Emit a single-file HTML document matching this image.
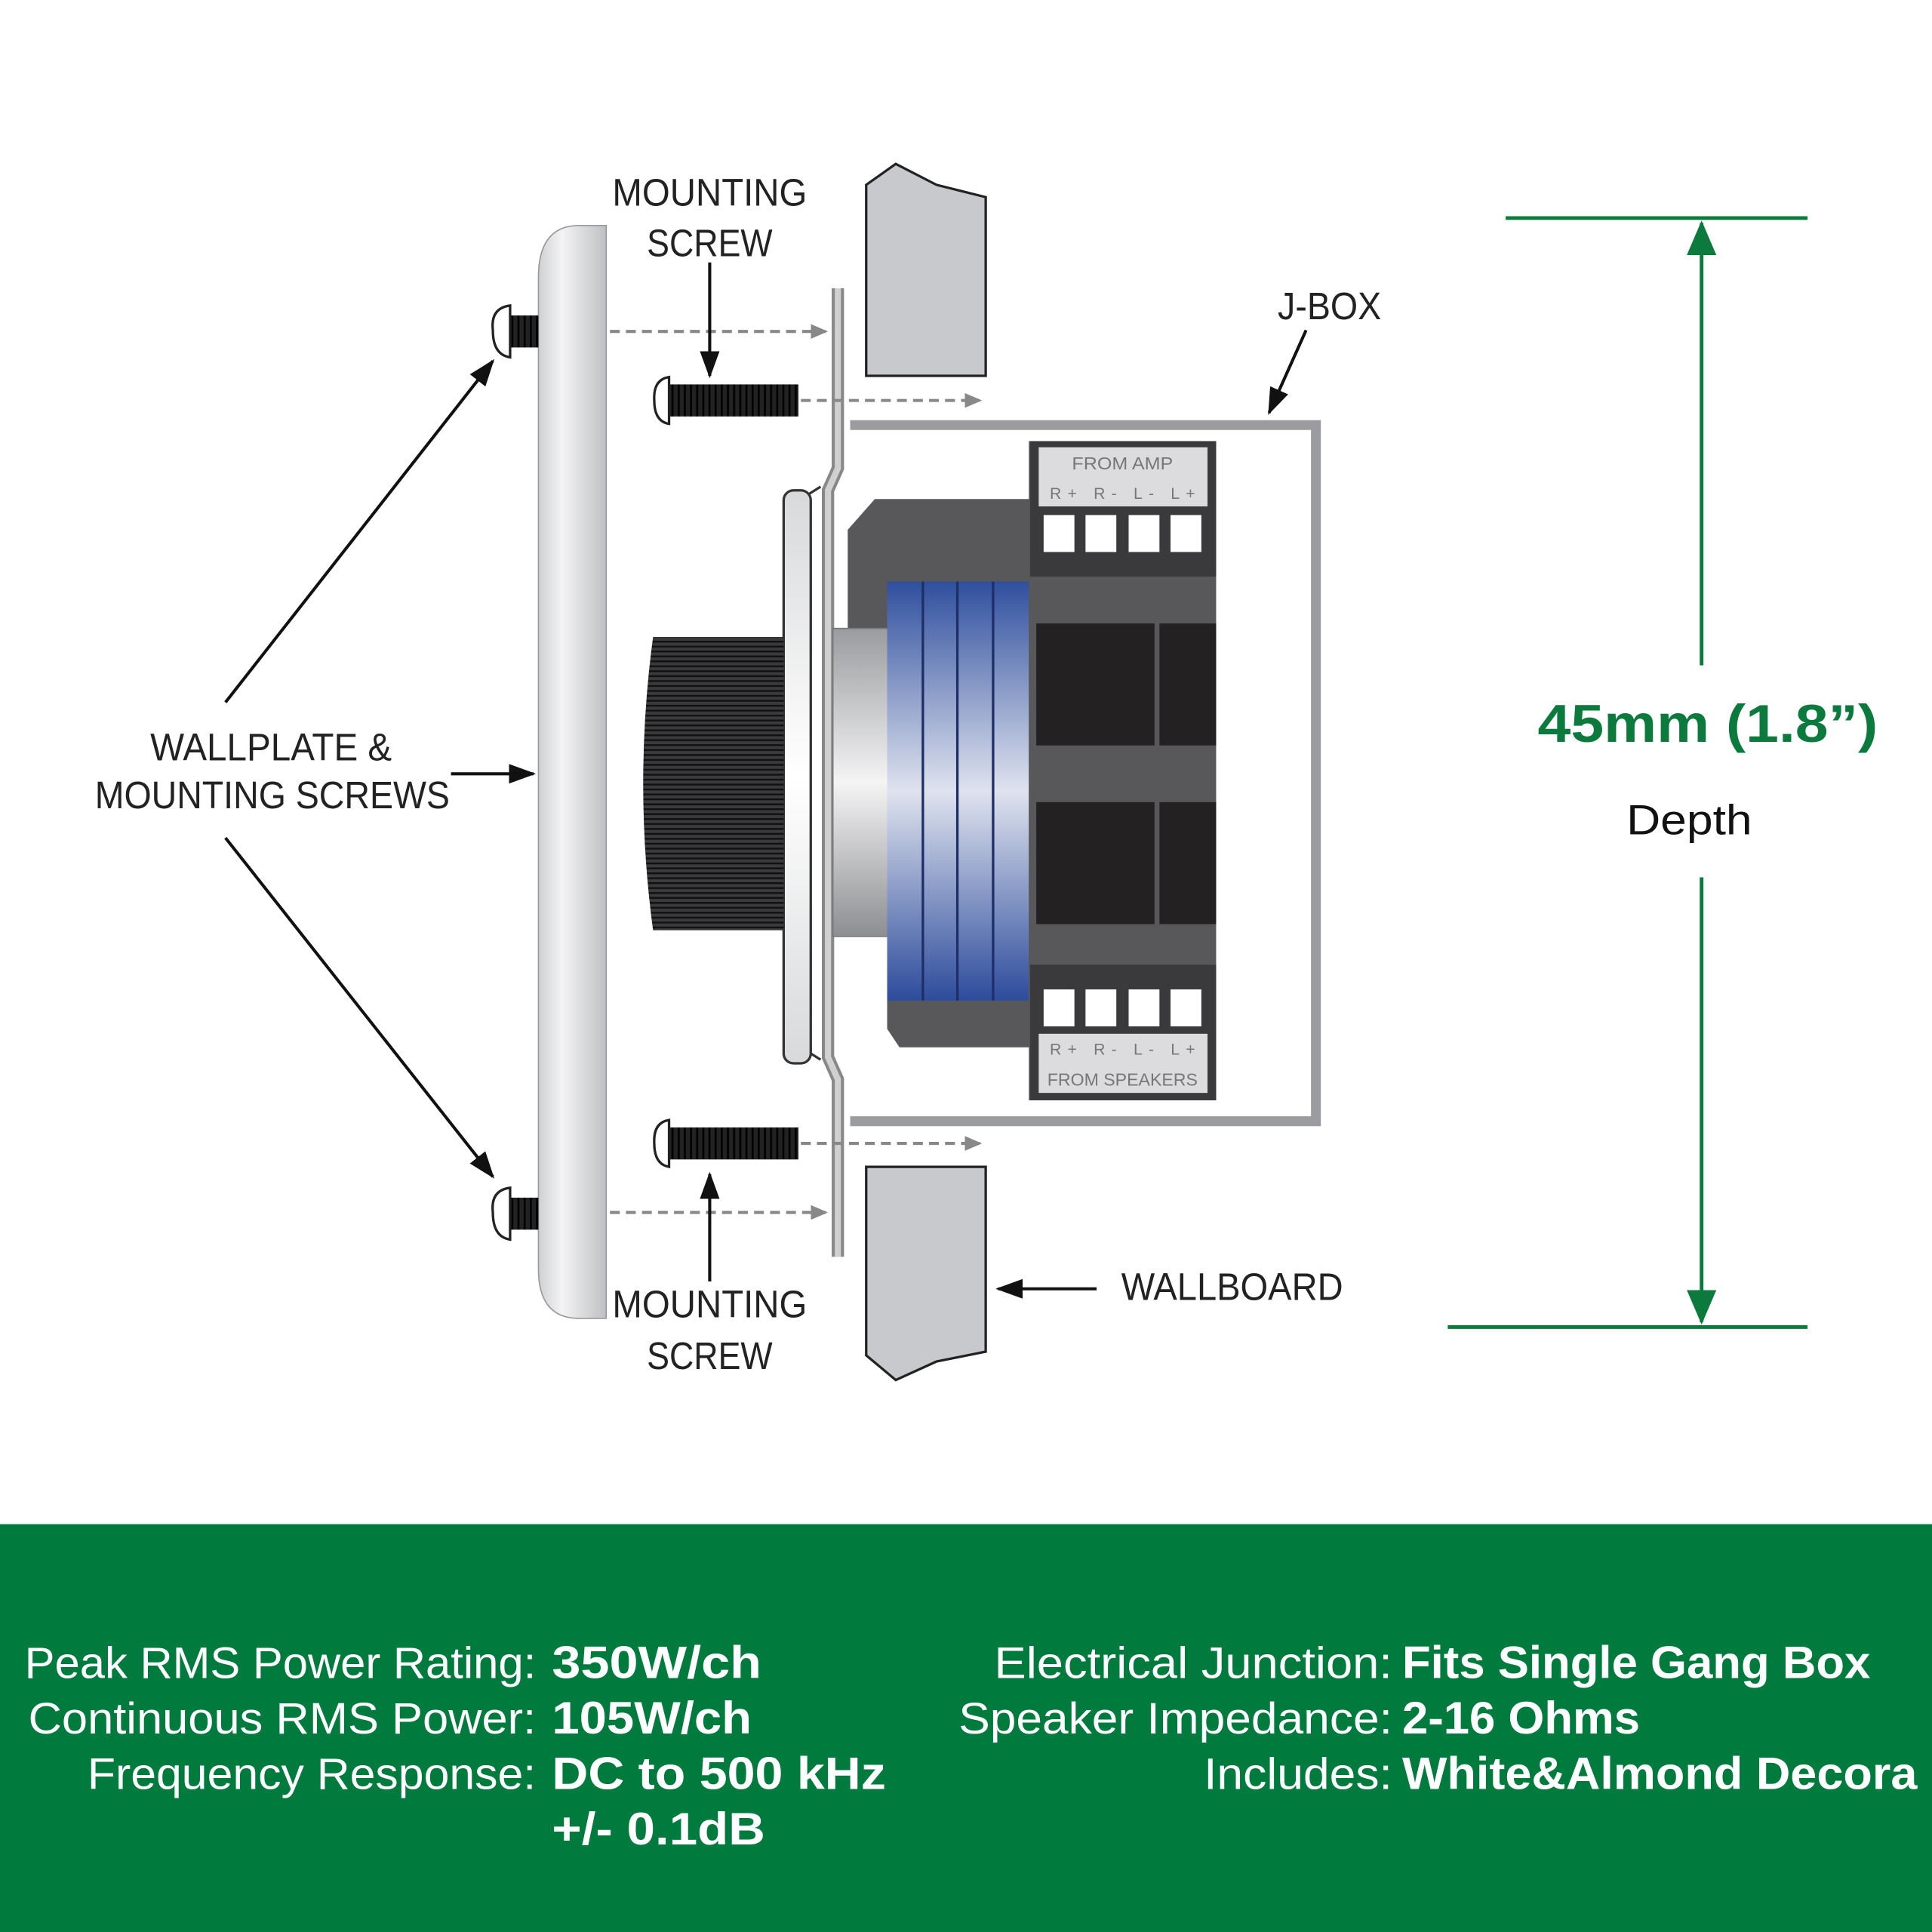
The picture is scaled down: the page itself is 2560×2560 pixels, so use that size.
<!DOCTYPE html>
<html><head><meta charset="utf-8"><style>
html,body{margin:0;padding:0;background:#fff}
svg{display:block}
text{font-family:"Liberation Sans",sans-serif}
</style></head><body>
<svg width="2560" height="2560" viewBox="0 0 1568 1568" xmlns="http://www.w3.org/2000/svg">
<defs>
<linearGradient id="wp" x1="0" x2="1"><stop offset="0" stop-color="#cfd0d2"/><stop offset="0.35" stop-color="#f4f4f5"/><stop offset="1" stop-color="#bfc0c3"/></linearGradient>
<linearGradient id="cyl" x1="0" y1="0" x2="0" y2="1"><stop offset="0" stop-color="#9a9b9e"/><stop offset="0.5" stop-color="#f4f4f5"/><stop offset="1" stop-color="#8d8e91"/></linearGradient>
<linearGradient id="blue" x1="0" y1="0" x2="0" y2="1"><stop offset="0" stop-color="#2f4f9e"/><stop offset="0.5" stop-color="#dfe3ee"/><stop offset="1" stop-color="#2d4c9c"/></linearGradient>
<linearGradient id="face" x1="0" y1="0" x2="0" y2="1"><stop offset="0" stop-color="#d8d9db"/><stop offset="0.5" stop-color="#fff"/><stop offset="1" stop-color="#d8d9db"/></linearGradient>
<pattern id="rib" width="4" height="4" patternUnits="userSpaceOnUse"><rect width="4" height="4" fill="#3a3a3c"/><rect width="4" height="1.5" fill="#111"/></pattern>
<pattern id="thr" width="5" height="10" patternUnits="userSpaceOnUse"><rect width="5" height="10" fill="#222"/><rect width="1.6" height="10" fill="#000"/></pattern>
<marker id="ab" markerWidth="22" markerHeight="16" refX="20" refY="8" orient="auto" markerUnits="userSpaceOnUse"><path d="M0,0 L22,8 L0,16z" fill="#111"/></marker>
<marker id="ag" markerWidth="14" markerHeight="12" refX="12" refY="6" orient="auto" markerUnits="userSpaceOnUse"><path d="M0,0 L14,6 L0,12z" fill="#888"/></marker>
<marker id="agr" markerWidth="28" markerHeight="24" refX="26" refY="12" orient="auto" markerUnits="userSpaceOnUse"><path d="M0,0 L28,12 L0,24z" fill="#0c7a3c"/></marker>
</defs>

<path d="M703,150 L727,133 L760,150 L800,160 L800,305 L703,305Z" fill="#c8c9cc" stroke="#222" stroke-width="2"/>
<path d="M703,947 L800,947 L800,1097 L760,1105 L727,1120 L703,1100Z" fill="#c8c9cc" stroke="#222" stroke-width="2"/>

<path d="M690,345 L1068,345 L1068,910 L690,910" fill="none" stroke="#9b9c9f" stroke-width="8"/>

<path d="M680,234 L680,380 L672,398 L672,858 L680,876 L680,1020" fill="none" stroke="#888" stroke-width="10"/>
<path d="M680,234 L680,380 L672,398 L672,858 L680,876 L680,1020" fill="none" stroke="#d0d0d2" stroke-width="5"/>

<path d="M666,395 L650,405 L650,850 L666,860" fill="none" stroke="#333" stroke-width="2"/>
<rect x="636" y="398" width="22" height="465" rx="8" fill="url(#face)" stroke="#333" stroke-width="2"/>

<path d="M530,517 L636,517 L636,755 L530,755 Q514,636 530,517Z" fill="url(#rib)"/>

<path d="M710,405 L840,405 L840,850 L730,850 L720,835 L720,760 L688,760 L688,430Z" fill="#58585b"/>
<rect x="676" y="510" width="48" height="250" fill="url(#cyl)" stroke="#777" stroke-width="1"/>
<rect x="720" y="472" width="115" height="340" fill="url(#blue)"/>
<line x1="749" y1="472" x2="749" y2="812" stroke="#1d2f66" stroke-width="2"/>
<line x1="777" y1="472" x2="777" y2="812" stroke="#1d2f66" stroke-width="2"/>
<line x1="806" y1="472" x2="806" y2="812" stroke="#1d2f66" stroke-width="2"/>

<rect x="835" y="358" width="152" height="535" fill="#58585b"/>
<rect x="836" y="358" width="151" height="110" fill="#3a3a3c"/>
<rect x="836" y="783" width="151" height="110" fill="#3a3a3c"/>
<rect x="843" y="363" width="137" height="48" fill="#dcdcde"/>
<rect x="843" y="839" width="137" height="48" fill="#dcdcde"/>
<g font-family="Liberation Sans Narrow, Liberation Sans, sans-serif">
<text x="911" y="381" font-size="14" fill="#777" text-anchor="middle" textLength="82" lengthAdjust="spacingAndGlyphs">FROM AMP</text>
<text x="911" y="405" font-size="13" fill="#777" text-anchor="middle" textLength="118">R+    R-    L-    L+</text>
<text x="911" y="856" font-size="13" fill="#777" text-anchor="middle" textLength="118">R+    R-    L-    L+</text>
<text x="911" y="881" font-size="14" fill="#777" text-anchor="middle" textLength="122" lengthAdjust="spacingAndGlyphs">FROM SPEAKERS</text>
</g>
<g fill="#fff"><rect x="847" y="418" width="25" height="30"/><rect x="881" y="418" width="25" height="30"/><rect x="916" y="418" width="25" height="30"/><rect x="950" y="418" width="25" height="30"/>
<rect x="847" y="803" width="25" height="30"/><rect x="881" y="803" width="25" height="30"/><rect x="916" y="803" width="25" height="30"/><rect x="950" y="803" width="25" height="30"/></g>
<g fill="#232122"><rect x="841" y="506" width="96" height="99"/><rect x="941" y="506" width="46" height="99"/><rect x="841" y="651" width="96" height="99"/><rect x="941" y="651" width="46" height="99"/></g>

<path d="M492,183 L470,183 Q437,183 437,225 L437,1030 Q437,1070 470,1070 L492,1070Z" fill="url(#wp)" stroke="#999" stroke-width="1"/>

<rect x="414" y="256" width="23" height="26" fill="url(#thr)"/>
<path d="M414,248 Q398,250 400,268 Q400,288 414,290 Z" fill="#fff" stroke="#222" stroke-width="2"/>
<rect x="414" y="972" width="23" height="26" fill="url(#thr)"/>
<path d="M414,964 Q398,966 400,984 Q400,1004 414,1006 Z" fill="#fff" stroke="#222" stroke-width="2"/>

<rect x="543" y="312" width="105" height="26" fill="url(#thr)"/>
<path d="M543,306 Q530,308 531,325 Q531,342 543,344 Z" fill="#fff" stroke="#222" stroke-width="2"/>
<rect x="543" y="915" width="105" height="26" fill="url(#thr)"/>
<path d="M543,909 Q530,911 531,928 Q531,945 543,947 Z" fill="#fff" stroke="#222" stroke-width="2"/>

<g stroke="#888" stroke-width="2.5" stroke-dasharray="8,5" fill="none">
<line x1="495" y1="269" x2="670" y2="269" marker-end="url(#ag)"/>
<line x1="650" y1="325" x2="795" y2="325" marker-end="url(#ag)"/>
<line x1="650" y1="928" x2="795" y2="928" marker-end="url(#ag)"/>
<line x1="495" y1="984" x2="670" y2="984" marker-end="url(#ag)"/>
</g>

<g stroke="#111" stroke-width="2.5" fill="none">
<line x1="576" y1="213" x2="576" y2="305" marker-end="url(#ab)"/>
<line x1="576" y1="1040" x2="576" y2="953" marker-end="url(#ab)"/>
<line x1="183" y1="570" x2="400" y2="293" marker-end="url(#ab)"/>
<line x1="183" y1="680" x2="400" y2="955" marker-end="url(#ab)"/>
<line x1="366" y1="628" x2="433" y2="628" marker-end="url(#ab)"/>
<line x1="1060" y1="268" x2="1030" y2="335" marker-end="url(#ab)"/>
<line x1="890" y1="1046" x2="810" y2="1046" marker-end="url(#ab)"/>
</g>

<g font-family="Liberation Sans Narrow, Liberation Sans, sans-serif" font-size="31" fill="#222" text-anchor="middle">
<text x="576" y="167" textLength="158" lengthAdjust="spacingAndGlyphs">MOUNTING</text>
<text x="576" y="208" textLength="102" lengthAdjust="spacingAndGlyphs">SCREW</text>
<text x="576" y="1069" textLength="158" lengthAdjust="spacingAndGlyphs">MOUNTING</text>
<text x="576" y="1111" textLength="102" lengthAdjust="spacingAndGlyphs">SCREW</text>
<text x="220" y="617" textLength="196" lengthAdjust="spacingAndGlyphs">WALLPLATE &amp;</text>
<text x="221" y="656" textLength="288" lengthAdjust="spacingAndGlyphs">MOUNTING SCREWS</text>
<text x="1079" y="259" textLength="84" lengthAdjust="spacingAndGlyphs">J-BOX</text>
<text x="1000" y="1055" textLength="180" lengthAdjust="spacingAndGlyphs">WALLBOARD</text>
</g>

<g stroke="#0c7a3c" stroke-width="3" fill="none">
<line x1="1222" y1="177" x2="1467" y2="177"/>
<line x1="1175" y1="1077" x2="1467" y2="1077"/>
<line x1="1381" y1="540" x2="1381" y2="181" marker-end="url(#agr)"/>
<line x1="1381" y1="712" x2="1381" y2="1073" marker-end="url(#agr)"/>
</g>
<text x="1386" y="602" font-size="43" font-weight="bold" fill="#0c7a3c" text-anchor="middle" textLength="276" lengthAdjust="spacingAndGlyphs">45mm (1.8”)</text>
<text x="1371" y="677" font-size="34" fill="#111" text-anchor="middle" textLength="102" lengthAdjust="spacingAndGlyphs">Depth</text>

<rect x="0" y="1237" width="1568" height="331" fill="#017a3e"/>
<g fill="#fff" font-size="36">
<text x="435" y="1362" text-anchor="end" textLength="415" lengthAdjust="spacingAndGlyphs">Peak RMS Power Rating:</text>
<text x="435" y="1407" text-anchor="end" textLength="412" lengthAdjust="spacingAndGlyphs">Continuous RMS Power:</text>
<text x="435" y="1452" text-anchor="end" textLength="364" lengthAdjust="spacingAndGlyphs">Frequency Response:</text>
<text x="1130" y="1362" text-anchor="end" textLength="323" lengthAdjust="spacingAndGlyphs">Electrical Junction:</text>
<text x="1130" y="1407" text-anchor="end" textLength="352" lengthAdjust="spacingAndGlyphs">Speaker Impedance:</text>
<text x="1130" y="1452" text-anchor="end" textLength="153" lengthAdjust="spacingAndGlyphs">Includes:</text>
</g>
<g fill="#fff" font-size="37" font-weight="bold">
<text x="448" y="1362" textLength="170" lengthAdjust="spacingAndGlyphs">350W/ch</text>
<text x="448" y="1407" textLength="162" lengthAdjust="spacingAndGlyphs">105W/ch</text>
<text x="448" y="1452" textLength="271" lengthAdjust="spacingAndGlyphs">DC to 500 kHz</text>
<text x="448" y="1497" textLength="173" lengthAdjust="spacingAndGlyphs">+/- 0.1dB</text>
<text x="1138" y="1362" textLength="380" lengthAdjust="spacingAndGlyphs">Fits Single Gang Box</text>
<text x="1138" y="1407" textLength="193" lengthAdjust="spacingAndGlyphs">2-16 Ohms</text>
<text x="1138" y="1452" textLength="418" lengthAdjust="spacingAndGlyphs">White&amp;Almond Decora</text>
</g>
</svg>
</body></html>
